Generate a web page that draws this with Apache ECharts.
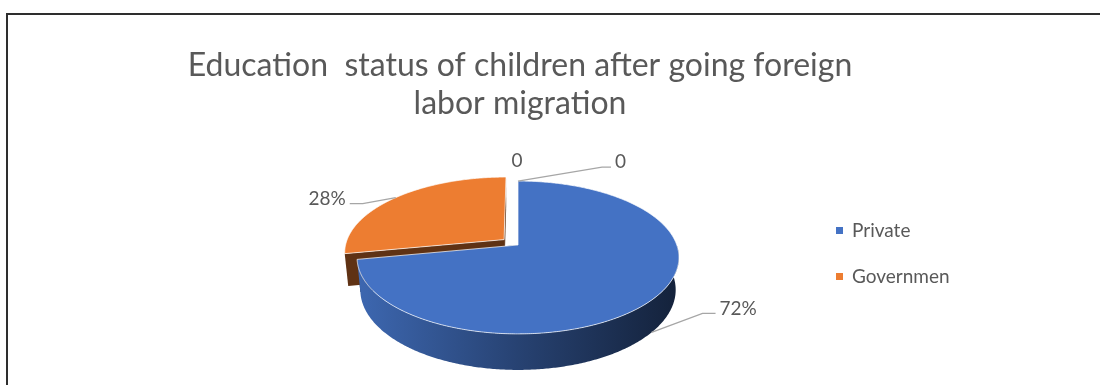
<!DOCTYPE html>
<html>
<head>
<meta charset="utf-8">
<title>Education status of children after going foreign labor migration</title>
<script src="https://cdn.jsdelivr.net/npm/echarts@6/dist/echarts.min.js"></script>
<style>
  html, body { margin: 0; padding: 0; background: #ffffff; }
  #frame {
    position: absolute; left: 6px; top: 13px; width: 1110px; height: 400px;
    border-top: 2px solid #2e2e2e; border-left: 2px solid #2e2e2e;
  }
  #chart { position: absolute; left: 0; top: 0; width: 1100px; height: 385px; }
</style>
</head>
<body>
<div id="frame"></div>
<div id="chart"></div>
<script>
// ---- data ----
const categories = ['Private', 'Government', '', ''];
const shares = [72, 28, 0, 0];
const legendNames = ['Private', 'Government'];
const titleText = 'Education  status of children after going foreign\nlabor migration';

// ---- style ----
const FONT = 'Lato';
const TEXT_COLOR = '#595959';
const LEADER_COLOR = '#a6a6a6';
const sliceColors = ['#4472C4', '#ED7D31', '#A5A5A5', '#FFC000'];
const explodedSlices = { Government: 0.115 };

// perspective view of the pie disc (unit radius); centre and scale in px
const VIEW = { cx: 518, cy: 245, scale: 158.8, tiltSin: 0.4685, tiltCos: 0.883, persp: 0.1846, depth: 0.233 };

function project(X, Yw, Z) {
  const d = 1 + (Z * VIEW.tiltCos - Yw * VIEW.tiltSin) * VIEW.persp;
  const yv = Yw * VIEW.tiltCos + Z * VIEW.tiltSin;
  return [VIEW.cx + VIEW.scale * X / d, VIEW.cy - VIEW.scale * yv / d];
}

function shade(hex, f) {
  const n = parseInt(hex.slice(1), 16);
  const r = Math.round(((n >> 16) & 255) * f);
  const g = Math.round(((n >> 8) & 255) * f);
  const b = Math.round((n & 255) * f);
  return 'rgb(' + r + ',' + g + ',' + b + ')';
}

const total = shares.reduce((a, b) => a + b, 0);
const startAngles = [];
(function () {
  let acc = 0;
  shares.forEach(v => { startAngles.push(acc / total * Math.PI * 2); acc += v; });
})();

function labelText(v) {
  return v > 0 ? Math.round(v / total * 100) + '%' : '0';
}

function textEl(str, x, y, align) {
  return {
    type: 'text', z2: 30,
    style: {
      text: str, x: x, y: y, align: align, verticalAlign: 'middle',
      fill: TEXT_COLOR, font: '19px ' + FONT
    }
  };
}

function leaderEl(points) {
  return {
    type: 'polyline', z2: 29,
    shape: { points: points },
    style: { stroke: LEADER_COLOR, lineWidth: 1.3, fill: null }
  };
}

function makeRender(i) {
  return function (params, api) {
    const v = api.value(0);
    const a0 = startAngles[i];
    const a1 = a0 + v / total * Math.PI * 2;
    const am = (a0 + a1) / 2;
    const e = explodedSlices[categories[i]] || 0;
    const ox = e * Math.sin(am), oz = e * Math.cos(am);
    const H = -VIEW.depth;
    const rim = (phi, yw) => project(Math.sin(phi) + ox, yw, Math.cos(phi) + oz);
    const hub = yw => project(ox, yw, oz);
    const base = sliceColors[i];
    const children = [];

    if (v > 0) {
      // outer wall, front half only; lit from the left, darker to the right
      const w0 = Math.max(a0, Math.PI / 2), w1 = Math.min(a1, Math.PI * 1.5);
      if (w1 - w0 > 0.25) {
        const wall = [];
        const n = Math.ceil((w1 - w0) / 0.01);
        for (let s = 0; s <= n; s++) wall.push(rim(w0 + (w1 - w0) * s / n, 0));
        for (let s = n; s >= 0; s--) wall.push(rim(w0 + (w1 - w0) * s / n, H));
        const xl = VIEW.cx - VIEW.scale, xr = VIEW.cx + VIEW.scale;
        children.push({
          type: 'polygon', z2: 2,
          shape: { points: wall },
          style: {
            fill: new echarts.graphic.LinearGradient(xl, 0, xr, 0, [
              { offset: 0, color: shade(base, 0.9) },
              { offset: 0.5, color: shade(base, 0.58) },
              { offset: 1, color: shade(base, 0.3) }
            ], true)
          }
        });
      }
      // cut faces at both slice edges
      [a0, a1].forEach(phi => {
        children.push({
          type: 'polygon', z2: 1,
          shape: { points: [hub(0), rim(phi, 0), rim(phi, H), hub(H)] },
          style: { fill: shade(base, 0.4) }
        });
      });
      // top face
      const pts = [hub(0)];
      const n = Math.max(2, Math.ceil((a1 - a0) / 0.01));
      for (let s = 0; s <= n; s++) pts.push(rim(a0 + (a1 - a0) * s / n, 0));
      children.push({
        type: 'polygon', z2: 10,
        shape: { points: pts },
        style: { fill: base, stroke: 'rgba(255,255,255,0.7)', lineWidth: 1 }
      });

      // data label with leader
      const front = Math.cos(am) < 0;
      const anchor = front ? rim(am, H) : rim(am, 0);
      const side = anchor[0] < VIEW.cx ? -1 : 1;
      const elbow = front
        ? [anchor[0] + side * 51, anchor[1] - 19]
        : [anchor[0] + side * 33, anchor[1] + 6];
      const tail = [elbow[0] + side * 13, elbow[1]];
      children.push(leaderEl([anchor, elbow, tail]));
      children.push(textEl(labelText(v), tail[0] + side * 4, tail[1] - 5, side < 0 ? 'right' : 'left'));
    } else {
      // empty category: label sits on the rim; later ones at the same spot step aside
      const anchor = rim(a0, 0);
      let k = 0;
      for (let j = 0; j < i; j++) {
        if (shares[j] === 0 && Math.abs(startAngles[j] - a0) < 1e-9) k++;
      }
      if (k === 0) {
        children.push(textEl(labelText(v), anchor[0] - 1, anchor[1] - 20, 'center'));
      } else {
        const elbow = [anchor[0] + 84 * k, anchor[1] - 14];
        const tail = [elbow[0] + 9, elbow[1]];
        children.push(leaderEl([anchor, elbow, tail]));
        children.push(textEl(labelText(v), tail[0] + 4, tail[1] - 5, 'left'));
      }
    }
    return { type: 'group', children: children };
  };
}

const chart = echarts.init(document.getElementById('chart'), null, { renderer: 'canvas' });

chart.setOption({
  animation: false,
  backgroundColor: 'transparent',
  title: {
    text: titleText,
    left: 515,
    top: 42,
    textAlign: 'center',
    textStyle: { fontFamily: FONT, fontSize: 32, fontWeight: 'normal', color: TEXT_COLOR, lineHeight: 38 }
  },
  legend: {
    data: legendNames,
    orient: 'vertical',
    left: 831,
    top: 216,
    icon: 'rect',
    itemWidth: 7,
    itemHeight: 7,
    itemGap: 27,
    selectedMode: false,
    textStyle: {
      fontFamily: FONT, fontSize: 19, color: TEXT_COLOR,
      width: 100, overflow: 'truncate', ellipsis: '', padding: [0, 0, 0, 4]
    }
  },
  series: categories.map((name, i) => ({
    type: 'custom',
    name: name,
    coordinateSystem: 'none',
    itemStyle: { color: sliceColors[i] },
    silent: true,
    renderItem: makeRender(i),
    data: [shares[i]]
  }))
});
</script>
</body>
</html>
